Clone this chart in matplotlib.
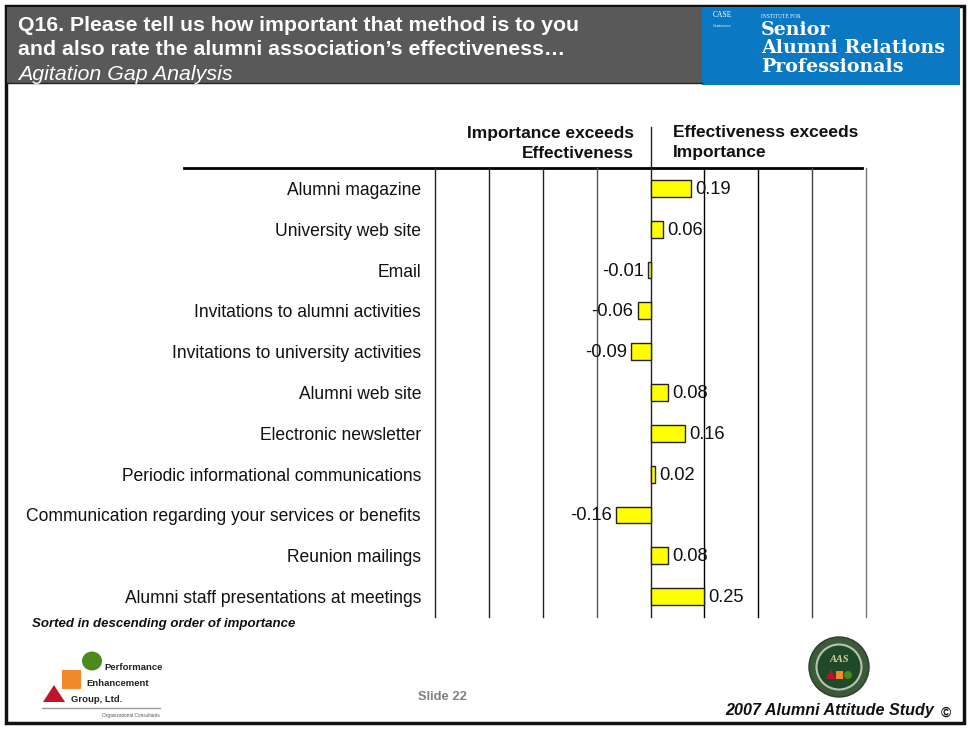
import matplotlib
matplotlib.use('Agg')
import matplotlib.pyplot as plt
from matplotlib.patches import Rectangle, Polygon, Ellipse

plt.rcParams['font.family'] = ['Liberation Sans', 'DejaVu Sans']

categories = ['Alumni magazine', 'University web site', 'Email',
              'Invitations to alumni activities', 'Invitations to university activities',
              'Alumni web site', 'Electronic newsletter',
              'Periodic informational communications',
              'Communication regarding your services or benefits',
              'Reunion mailings', 'Alumni staff presentations at meetings']
gaps = [0.19, 0.06, -0.01, -0.06, -0.09, 0.08, 0.16, 0.02, -0.16, 0.08, 0.25]
grid_ticks = [-1, -0.75, -0.5, -0.25, 0, 0.25, 0.5, 0.75, 1]
grid_colors = ['#222222', '#222222', '#222222', '#555555', '#222222',
               '#000000', '#000000', '#444444', '#777777']

W, H = 968, 729
fig = plt.figure(figsize=(W / 100, H / 100), dpi=100)

# overlay in pixel coordinates for the slide furniture
bg = fig.add_axes([0, 0, 1, 1])
bg.set_xlim(0, W)
bg.set_ylim(H, 0)
bg.axis('off')
bg.add_patch(Rectangle((5.5, 5.5), 958, 717, fc='white', ec='#111111', lw=2.5))
bg.add_patch(Rectangle((7, 7), 695, 76, fc='#595959', ec='none'))
bg.plot([7, 702], [83, 83], color='#222222', lw=1)
bg.add_patch(Rectangle((702, 7), 258, 78, fc='#0a78c2', ec='none'))

bg.text(18, 25.5, 'Q16. Please tell us how important that method is to you', color='white',
        fontsize=15.3, fontweight='bold', va='center')
bg.text(18, 49, 'and also rate the alumni association\u2019s effectiveness\u2026', color='white',
        fontsize=15.3, fontweight='bold', va='center')
bg.text(18, 74, 'Agitation Gap Analysis', color='white', fontsize=15.4, style='italic', va='center')

# CASE / institute logo
bg.text(713, 15, 'CASE', color='white', fontsize=5.5, family='Liberation Serif', va='center')
bg.text(713, 26, 'Conference', color='white', fontsize=3, family='Liberation Serif', va='center')
bg.text(761, 16, 'INSTITUTE FOR', color='white', fontsize=4, family='Liberation Serif', va='center')
bg.text(761, 30, 'Senior', color='white', fontsize=13.7, fontweight='bold', family='DejaVu Serif', va='center')
bg.text(761, 48, 'Alumni Relations', color='white', fontsize=13.7, fontweight='bold', family='DejaVu Serif', va='center')
bg.text(761, 67, 'Professionals', color='white', fontsize=13.7, fontweight='bold', family='DejaVu Serif', va='center')

# column headings
bg.text(634, 133, 'Importance exceeds', ha='right', va='center', fontsize=12.5, fontweight='bold', color='#111111')
bg.text(634, 153, 'Effectiveness', ha='right', va='center', fontsize=12.5, fontweight='bold', color='#111111')
bg.text(673, 132, 'Effectiveness exceeds', ha='left', va='center', fontsize=12.5, fontweight='bold', color='#111111')
bg.text(673, 152, 'Importance', ha='left', va='center', fontsize=12.5, fontweight='bold', color='#111111')
bg.plot([651, 651], [127, 168], color='#222222', lw=1)
bg.plot([184, 862], [168, 168], color='black', lw=2)

# footer
bg.text(32, 624, 'Sorted in descending order of importance', fontsize=9.5, fontweight='bold',
        style='italic', va='center', color='#111111')
bg.text(442, 697, 'Slide 22', fontsize=9.4, fontweight='bold', ha='center', va='center', color='#808080')
bg.text(934, 710, '2007 Alumni Attitude Study', fontsize=11.6, fontweight='bold', style='italic',
        ha='right', va='center', color='#111111')
bg.text(946, 713, '\u00a9', fontsize=10, fontweight='bold', ha='center', va='center', color='#111111')

# performance enhancement logo
bg.add_patch(Ellipse((92, 661), 20, 19, fc='#4c8a1e', ec='none'))
bg.add_patch(Rectangle((62, 670), 19, 19, fc='#f08a2c', ec='none'))
bg.add_patch(Polygon([[43, 702], [65, 702], [54, 685]], fc='#c0142c', ec='none'))
bg.text(104, 668, 'Performance', fontsize=6.8, fontweight='bold', va='center', color='#222222')
bg.text(86, 684, 'Enhancement', fontsize=6.8, fontweight='bold', va='center', color='#222222')
bg.text(71, 700, 'Group, Ltd.', fontsize=6.8, fontweight='bold', va='center', color='#222222')
bg.plot([42, 160], [708, 708], color='#999999', lw=1)
bg.text(160, 715, 'Organizational Consultants', fontsize=3.4, ha='right', va='center', color='#555555')

# AAS seal
bg.add_patch(Ellipse((839, 667), 60, 60, fc='#3b5a3a', ec='#2a3f2a', lw=1))
bg.add_patch(Ellipse((839, 667), 45, 45, fc='#1f4a2a', ec='#b8c4b0', lw=1.5))
bg.text(839, 660, 'AAS', color='#d8cf9a', fontsize=7.5, fontweight='bold', style='italic',
        family='Liberation Serif', ha='center', va='center')
bg.add_patch(Polygon([[826, 679], [836, 679], [831, 670]], fc='#c0142c', ec='none'))
bg.add_patch(Rectangle((836, 671), 7, 8, fc='#f08a2c', ec='none'))
bg.add_patch(Ellipse((848, 675), 8, 8, fc='#4c8a1e', ec='none'))

# the chart itself
ax = fig.add_axes([435 / W, 1 - 617 / H, 431 / W, 449 / H])
ax.patch.set_alpha(0)
y = list(range(len(categories)))
ax.set_xlim(-1, 1)
ax.set_ylim(len(categories) - 0.5, -0.5)
for t, c in zip(grid_ticks, grid_colors):
    ax.axvline(t, color=c, lw=1, zorder=1, clip_on=False)
ax.barh(y, gaps, height=0.41, color='#ffff00', edgecolor='#222222', lw=1, zorder=2)
for yi, v in zip(y, gaps):
    off = 3 if v > 0 else -3
    ax.annotate(f'{v:.2f}', (v, yi), xytext=(off, -0.7), textcoords='offset points',
                ha='left' if v > 0 else 'right', va='center', fontsize=13.2, color='#111111', zorder=3)
for s in ax.spines.values():
    s.set_visible(False)
ax.set_xticks([])
ax.set_yticks(y)
ax.set_yticklabels(categories, fontsize=12.65, color='#111111')
ax.tick_params(axis='y', length=0, pad=10)

fig.savefig('out.png', dpi=100)
